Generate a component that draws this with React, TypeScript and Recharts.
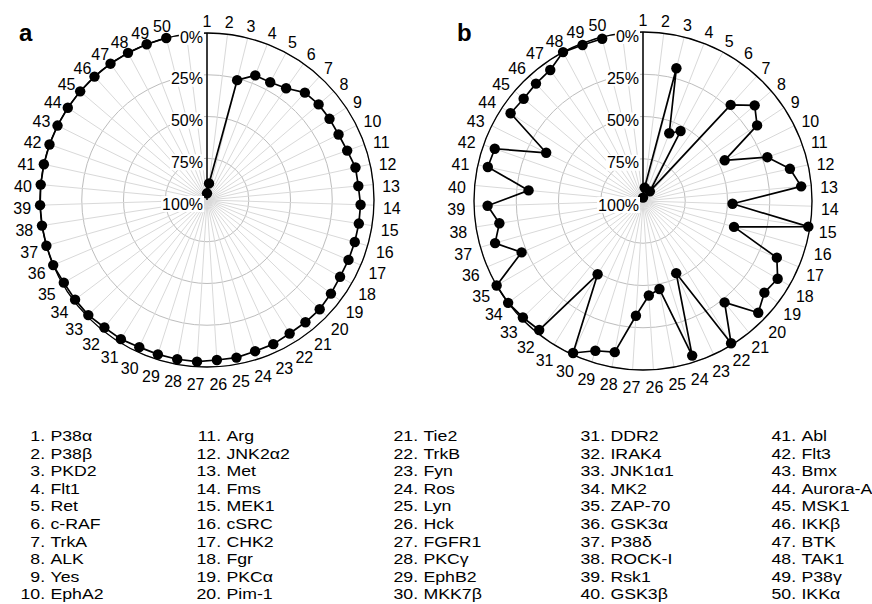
import { RadarChart, Radar, PolarGrid, PolarAngleAxis, PolarRadiusAxis } from "recharts";

// 51 angular slots: kinases 1..50 plus one empty slot between 50 and 1
const slotLabels = [
  "1", "2", "3", "4", "5", "6", "7", "8", "9", "10",
  "11", "12", "13", "14", "15", "16", "17", "18", "19", "20",
  "21", "22", "23", "24", "25", "26", "27", "28", "29", "30",
  "31", "32", "33", "34", "35", "36", "37", "38", "39", "40",
  "41", "42", "43", "44", "45", "46", "47", "48", "49", "50",
  "",
];

const kinases = [
  "P38α", "P38β", "PKD2", "Flt1", "Ret", "c-RAF", "TrkA", "ALK", "Yes", "EphA2",
  "Arg", "JNK2α2", "Met", "Fms", "MEK1", "cSRC", "CHK2", "Fgr", "PKCα", "Pim-1",
  "Tie2", "TrkB", "Fyn", "Ros", "Lyn", "Hck", "FGFR1", "PKCγ", "EphB2", "MKK7β",
  "DDR2", "IRAK4", "JNK1α1", "MK2", "ZAP-70", "GSK3α", "P38δ", "ROCK-I", "Rsk1", "GSK3β",
  "Abl", "Flt3", "Bmx", "Aurora-A", "MSK1", "IKKβ", "BTK", "TAK1", "P38γ", "IKKα",
];

const valuesA = [
  96, 90, 26, 20, 20, 18, 13, 12, 12, 12,
  11, 9, 9, 8, 8, 8, 8, 8, 7, 6,
  6, 6, 5, 5, 4, 4, 3, 3, 3, 3,
  2, 2, 1, 1, 1, 0, 0, 0, 0, 0,
  0, 0, 0, 0, 0, 0, 0, 0, 0, 0,
  null,
];

const valuesB = [
  98, 92, 19, 57, 53, 93, 23, 13, 19, 46,
  22, 11, 6, 47, 1, 44, 14, 8, 10, 5,
  23, 1, 53, 4, 47, 44, 32, 9, 7, 1,
  49, 2, 1, 0, 0, 22, 9, 14, 8, 32,
  6, 7, 36, 6, 7, 6, 5, 0, 1, 1,
  null,
];

const radiusTicks = [0, 25, 50, 75, 100];

const FONT = "'Liberation Sans', Arial, Helvetica, sans-serif";

function textWidth(s: string) {
  let w = 0;
  for (const ch of s) w += ch === "%" ? 14.2 : 8.9;
  return w;
}

function AngleTick(props: any) {
  const { x, y, payload } = props;
  const label = String(payload.value ?? "");
  if (!label) return null;
  const a = (payload.coordinate * Math.PI) / 180;
  const dx = Math.cos(a);
  const dy = -Math.sin(a);
  const w = textWidth(label);
  const tx = x + dx + (dx * w) / 2;
  const ty = y + dy + dy * 6 + 3;
  return (
    <text x={tx} y={ty} textAnchor="middle" dominantBaseline="central" fontSize={16} fill="#000" fontFamily={FONT}>
      {label}
    </text>
  );
}

function RadiusTick(props: any) {
  const { x, y, payload } = props;
  const label = `${payload.value}%`;
  const w = textWidth(label);
  return (
    <g>
      <rect x={x - 5 - w} y={y + 4 - 8} width={w + 2} height={16} fill="#fff" />
      <text x={x - 4} y={y + 4} textAnchor="end" dominantBaseline="central" fontSize={16} fill="#000" fontFamily={FONT}>
        {label}
      </text>
    </g>
  );
}

// open trace: the original does not close 50 back to 1
function OpenTrace(props: any) {
  const pts = (props.points || []).filter((p: any) => p.payload && p.payload.v != null);
  const d = pts.map((p: any, i: number) => `${i ? "L" : "M"}${p.x},${p.y}`).join(" ");
  return (
    <g>
      <path d={d} fill="none" stroke="#000" strokeWidth={1.7} strokeLinejoin="round" />
      {pts.map((p: any, i: number) => (
        <circle key={i} cx={p.x} cy={p.y} r={5.2} fill="#000" />
      ))}
    </g>
  );
}

function Panel({ values, cy, radius }: { values: (number | null)[]; cy: number; radius: number }) {
  const data = slotLabels.map((id, i) => ({ id, v: values[i] }));
  return (
    <RadarChart
      width={436}
      height={395}
      data={data}
      cx={207}
      cy={cy}
      outerRadius={radius}
      margin={{ top: 0, right: 0, bottom: 0, left: 0 }}
    >
      <PolarGrid gridType="circle" radialLines={false} stroke="#bdbdbd" strokeWidth={1} />
      <PolarGrid gridType="circle" polarRadius={[]} stroke="#d9d9d9" strokeWidth={1} />
      <PolarAngleAxis
        dataKey="id"
        axisLineType="circle"
        axisLine={{ stroke: "#000", strokeWidth: 1.3 }}
        tickLine={false}
        tick={<AngleTick />}
      />
      <Radar dataKey="v" shape={OpenTrace} dot={false} fill="none" stroke="#000" isAnimationActive={false} />
      <PolarRadiusAxis
        angle={90}
        type="number"
        domain={[0, 100]}
        ticks={radiusTicks}
        tickCount={5}
        reversed
        axisLine={{ stroke: "#000", strokeWidth: 1.5 }}
        tickLine={false}
        tick={<RadiusTick />}
      />
    </RadarChart>
  );
}

const legendCols = [20, 196.7, 393.3, 580, 771.7];

export default function App() {
  return (
    <div style={{ position: "absolute", left: 0, top: 0, width: 872, height: 604, overflow: "hidden", background: "#fff", fontFamily: FONT }}>
      <div style={{ position: "absolute", left: 0, top: 0 }}>
        <Panel values={valuesA} cy={200} radius={167} />
      </div>
      <div style={{ position: "absolute", left: 436, top: 0 }}>
        <Panel values={valuesB} cy={201} radius={169} />
      </div>
      <div style={{ position: "absolute", left: 19, top: 21, fontSize: 24, fontWeight: "bold", lineHeight: "24px" }}>a</div>
      <div style={{ position: "absolute", left: 457, top: 21, fontSize: 24, fontWeight: "bold", lineHeight: "24px" }}>b</div>
      {legendCols.map((left, c) => (
        <div
          key={c}
          style={{
            position: "absolute",
            left: left - 2.5,
            top: 427,
            transform: "scaleX(1.18)",
            transformOrigin: "0 0",
            fontSize: 15,
            lineHeight: "17.6px",
            whiteSpace: "nowrap",
          }}
        >
          {kinases.slice(c * 10, c * 10 + 10).map((name, r) => (
            <div key={r} style={{ display: "flex", height: 17.6 }}>
              <span style={{ width: 23, textAlign: "right" }}>{`${c * 10 + r + 1}.`}</span>
              <span style={{ paddingLeft: 4.5 }}>{name}</span>
            </div>
          ))}
        </div>
      ))}
    </div>
  );
}
